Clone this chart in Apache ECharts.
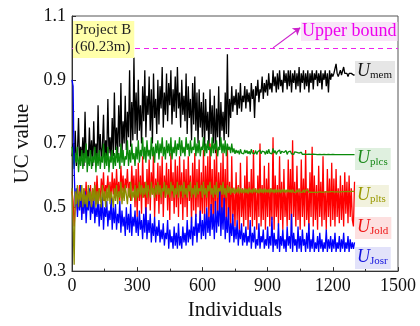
<!DOCTYPE html>
<html>
<head>
<meta charset="utf-8">
<script src="https://cdn.jsdelivr.net/npm/echarts@6/dist/echarts.min.js"></script>
<style>
  html, body { margin: 0; padding: 0; background: #fff; }
  #chart { width: 420px; height: 326px; }
</style>
</head>
<body>
<div id="chart"></div>
<script>
// one value every 5 individuals, 0 .. 1300
const step = 5;
const xTicks = [0, 300, 600, 900, 1200, 1500];
const yTicks = [0.3, 0.5, 0.7, 0.9, 1.1];
const upperBound = 1.0;

const uMem = [
  0.66,0.70,0.64,0.74,0.63,0.67,0.78,0.64,0.69,0.65,0.72,0.63,0.80,0.66,0.68,0.64,0.75,0.65,0.71,0.63,
  0.77,0.65,0.70,0.64,0.82,0.66,0.73,0.65,0.69,0.79,0.64,0.71,0.66,0.84,0.67,0.72,0.65,0.78,0.66,0.86,
  0.68,0.75,0.66,0.82,0.69,0.89,0.67,0.77,0.70,0.85,0.68,0.80,0.72,0.93,0.69,0.83,0.71,0.97,0.73,0.86,
  0.71,0.90,0.74,0.82,0.70,0.88,0.77,0.93,0.72,0.85,0.79,0.91,0.74,0.87,0.70,0.92,0.78,0.84,0.73,0.90,
  0.76,0.88,0.81,0.94,0.75,0.86,0.79,0.92,0.77,0.89,0.82,0.93,0.76,0.87,0.80,0.91,0.78,0.94,0.81,0.86,
  0.75,0.90,0.79,0.85,0.77,0.92,0.73,0.88,0.78,0.84,0.71,0.89,0.76,0.91,0.74,0.86,0.70,0.87,0.75,0.83,
  0.72,0.86,0.69,0.84,0.74,0.80,0.68,0.87,0.73,0.82,0.70,0.85,0.67,0.81,0.72,0.88,0.69,0.83,0.74,0.80,
  0.71,0.86,0.73,0.98,0.72,0.84,0.78,0.88,0.80,0.85,0.82,0.87,0.79,0.86,0.81,0.89,0.80,0.85,0.83,0.88,
  0.81,0.87,0.83,0.86,0.80,0.89,0.84,0.87,0.78,0.88,0.85,0.90,0.83,0.87,0.86,0.91,0.84,0.89,0.86,0.90,
  0.85,0.92,0.87,0.89,0.86,0.93,0.88,0.91,0.86,0.92,0.87,0.93,0.88,0.90,0.86,0.93,0.89,0.92,0.87,0.93,
  0.88,0.93,0.86,0.92,0.89,0.93,0.87,0.92,0.88,0.94,0.86,0.92,0.89,0.93,0.87,0.92,0.88,0.93,0.86,0.92,
  0.89,0.93,0.87,0.92,0.90,0.93,0.88,0.92,0.89,0.93,0.87,0.92,0.90,0.93,0.88,0.92,0.86,0.93,0.90,0.92,
  0.91,0.92,0.92,0.95,0.92,0.91,0.92,0.93,0.915,0.92,0.94,0.92,0.915,0.92,0.91,0.92,0.915,0.92,0.915,0.915,0.915
];
const uPlcs = [
  0.69,0.66,0.62,0.67,0.64,0.69,0.61,0.66,0.63,0.68,0.62,0.67,0.64,0.70,0.61,0.66,0.63,0.68,0.62,0.66,
  0.64,0.69,0.61,0.67,0.63,0.68,0.62,0.66,0.64,0.70,0.62,0.67,0.63,0.69,0.61,0.66,0.64,0.68,0.62,0.67,
  0.63,0.69,0.64,0.67,0.62,0.70,0.64,0.68,0.63,0.66,0.65,0.71,0.63,0.68,0.64,0.70,0.65,0.67,0.63,0.69,
  0.65,0.71,0.64,0.68,0.66,0.72,0.65,0.69,0.64,0.71,0.66,0.68,0.65,0.72,0.66,0.69,0.64,0.70,0.67,0.71,
  0.65,0.70,0.67,0.72,0.66,0.69,0.65,0.71,0.67,0.70,0.66,0.72,0.65,0.69,0.67,0.71,0.66,0.70,0.68,0.72,
  0.66,0.71,0.67,0.69,0.66,0.72,0.68,0.70,0.66,0.71,0.67,0.69,0.68,0.72,0.66,0.70,0.67,0.71,0.66,0.69,
  0.68,0.72,0.66,0.70,0.67,0.71,0.68,0.69,0.66,0.72,0.67,0.70,0.68,0.71,0.66,0.69,0.68,0.72,0.67,0.70,
  0.67,0.71,0.66,0.70,0.68,0.69,0.67,0.70,0.672,0.685,0.668,0.68,0.67,0.678,0.666,0.682,0.67,0.676,0.668,0.68,
  0.67,0.678,0.668,0.676,0.666,0.682,0.67,0.675,0.668,0.678,0.666,0.674,0.67,0.68,0.668,0.676,0.67,0.674,0.666,0.678,
  0.668,0.682,0.67,0.676,0.668,0.685,0.67,0.678,0.666,0.674,0.67,0.68,0.668,0.676,0.67,0.672,0.668,0.678,0.666,0.674,
  0.67,0.676,0.668,0.672,0.666,0.674,0.668,0.672,0.666,0.67,0.668,0.673,0.666,0.67,0.667,0.672,0.666,0.669,0.667,0.671,
  0.666,0.669,0.667,0.668,0.666,0.669,0.665,0.668,0.666,0.668,0.665,0.667,0.666,0.668,0.665,0.667,0.666,0.667,0.665,0.667,
  0.666,0.666,0.665,0.667,0.665,0.666,0.665,0.666,0.665,0.666,0.665,0.666,0.665,0.666,0.665,0.666,0.665,0.665,0.665,0.665,0.665
];
const uPlts = [
  0.56,0.45,0.32,0.55,0.51,0.57,0.50,0.55,0.52,0.57,0.50,0.56,0.51,0.54,0.50,0.57,0.52,0.55,0.50,0.56,
  0.52,0.57,0.50,0.55,0.51,0.56,0.53,0.50,0.57,0.52,0.55,0.50,0.56,0.52,0.57,0.51,0.55,0.53,0.50,0.56,
  0.52,0.57,0.51,0.55,0.53,0.58,0.51,0.56,0.52,0.57,0.54,0.51,0.56,0.53,0.58,0.52,0.55,0.53,0.57,0.52,
  0.56,0.53,0.58,0.54,0.57,0.53,0.56,0.54,0.58,0.53,0.57,0.55,0.53,0.58,0.54,0.56,0.53,0.57,0.54,0.58,
  0.54,0.57,0.53,0.56,0.55,0.58,0.53,0.57,0.54,0.56,0.53,0.58,0.55,0.57,0.53,0.56,0.54,0.58,0.53,0.57,
  0.55,0.57,0.53,0.58,0.54,0.56,0.53,0.57,0.55,0.58,0.53,0.56,0.54,0.57,0.53,0.58,0.54,0.56,0.55,0.57,
  0.53,0.58,0.54,0.56,0.53,0.57,0.55,0.58,0.54,0.56,0.53,0.57,0.54,0.58,0.53,0.56,0.55,0.57,0.54,0.58,
  0.54,0.56,0.53,0.57,0.545,0.565,0.54,0.56,0.545,0.562,0.542,0.558,0.546,0.564,0.543,0.56,0.545,0.558,0.544,0.56,
  0.545,0.558,0.543,0.562,0.546,0.556,0.544,0.56,0.547,0.558,0.545,0.556,0.544,0.56,0.546,0.557,0.545,0.559,0.546,0.556,
  0.546,0.557,0.545,0.559,0.547,0.556,0.545,0.558,0.546,0.555,0.547,0.557,0.545,0.556,0.547,0.558,0.546,0.555,0.547,0.556,
  0.547,0.555,0.546,0.556,0.548,0.554,0.546,0.555,0.547,0.556,0.548,0.554,0.547,0.555,0.546,0.554,0.548,0.555,0.547,0.553,
  0.548,0.554,0.547,0.553,0.548,0.554,0.547,0.553,0.549,0.554,0.547,0.552,0.548,0.553,0.549,0.552,0.548,0.553,0.549,0.552,
  0.549,0.552,0.548,0.552,0.549,0.551,0.548,0.552,0.549,0.551,0.549,0.552,0.549,0.551,0.55,0.551,0.549,0.551,0.55,0.55,0.55
];
const uJold = [
  0.55,0.52,0.44,0.50,0.55,0.49,0.53,0.57,0.50,0.54,0.48,0.56,0.51,0.58,0.50,0.55,0.52,0.57,0.49,0.56,
  0.52,0.58,0.51,0.60,0.53,0.56,0.52,0.59,0.54,0.61,0.52,0.57,0.55,0.60,0.53,0.58,0.52,0.61,0.54,0.59,
  0.53,0.62,0.54,0.58,0.52,0.63,0.55,0.60,0.53,0.59,0.56,0.62,0.54,0.58,0.52,0.63,0.55,0.60,0.50,0.62,
  0.47,0.64,0.52,0.60,0.48,0.66,0.53,0.58,0.46,0.62,0.51,0.65,0.49,0.61,0.54,0.67,0.47,0.59,0.52,0.64,
  0.48,0.63,0.51,0.66,0.47,0.60,0.53,0.64,0.49,0.62,0.46,0.67,0.52,0.61,0.48,0.65,0.50,0.63,0.47,0.66,
  0.51,0.61,0.46,0.65,0.50,0.62,0.47,0.66,0.52,0.60,0.45,0.64,0.49,0.67,0.47,0.62,0.50,0.65,0.46,0.61,
  0.48,0.68,0.46,0.63,0.50,0.66,0.45,0.70,0.49,0.62,0.44,0.65,0.48,0.69,0.46,0.61,0.50,0.64,0.45,0.67,
  0.47,0.62,0.44,0.69,0.46,0.58,0.43,0.66,0.47,0.55,0.44,0.61,0.46,0.57,0.43,0.64,0.47,0.56,0.44,0.60,
  0.46,0.66,0.43,0.58,0.47,0.62,0.44,0.68,0.46,0.56,0.43,0.60,0.47,0.70,0.44,0.57,0.46,0.63,0.43,0.59,
  0.47,0.64,0.44,0.56,0.46,0.72,0.43,0.60,0.47,0.57,0.44,0.66,0.46,0.58,0.43,0.62,0.47,0.55,0.44,0.65,
  0.46,0.62,0.43,0.71,0.47,0.58,0.44,0.63,0.46,0.56,0.43,0.65,0.47,0.59,0.44,0.68,0.46,0.56,0.43,0.61,
  0.47,0.69,0.44,0.60,0.46,0.57,0.43,0.63,0.47,0.58,0.44,0.66,0.46,0.55,0.43,0.62,0.47,0.59,0.44,0.64,
  0.46,0.59,0.44,0.62,0.47,0.56,0.45,0.60,0.46,0.57,0.44,0.61,0.48,0.58,0.45,0.60,0.47,0.56,0.46,0.44,0.58
];
const uJosr = [
  0.90,0.88,0.62,0.50,0.56,0.47,0.54,0.49,0.57,0.46,0.53,0.48,0.55,0.45,0.52,0.49,0.56,0.46,0.51,0.48,
  0.54,0.45,0.50,0.47,0.53,0.44,0.51,0.46,0.54,0.43,0.50,0.47,0.52,0.44,0.49,0.46,0.53,0.43,0.50,0.45,
  0.51,0.43,0.48,0.45,0.52,0.42,0.49,0.44,0.47,0.41,0.50,0.43,0.48,0.42,0.51,0.41,0.47,0.44,0.49,0.42,
  0.47,0.41,0.49,0.43,0.46,0.40,0.48,0.42,0.50,0.40,0.46,0.42,0.48,0.39,0.45,0.41,0.47,0.39,0.44,0.41,
  0.46,0.39,0.43,0.40,0.45,0.38,0.42,0.40,0.46,0.37,0.43,0.39,0.41,0.37,0.44,0.38,0.42,0.37,0.45,0.38,
  0.41,0.37,0.44,0.39,0.42,0.38,0.46,0.39,0.43,0.40,0.47,0.38,0.44,0.41,0.48,0.39,0.45,0.42,0.49,0.40,
  0.46,0.41,0.48,0.40,0.50,0.42,0.47,0.41,0.51,0.43,0.48,0.40,0.52,0.42,0.49,0.44,0.55,0.41,0.50,0.43,
  0.53,0.40,0.47,0.42,0.50,0.39,0.45,0.41,0.48,0.39,0.44,0.40,0.46,0.38,0.43,0.40,0.45,0.38,0.42,0.39,
  0.44,0.38,0.41,0.39,0.46,0.37,0.42,0.39,0.44,0.37,0.40,0.38,0.45,0.37,0.41,0.39,0.43,0.37,0.40,0.38,
  0.44,0.37,0.41,0.38,0.47,0.36,0.42,0.38,0.40,0.37,0.45,0.36,0.41,0.38,0.43,0.37,0.40,0.36,0.44,0.38,
  0.41,0.37,0.48,0.36,0.42,0.38,0.40,0.36,0.44,0.37,0.41,0.36,0.43,0.38,0.40,0.36,0.42,0.37,0.45,0.36,
  0.40,0.37,0.43,0.36,0.39,0.37,0.41,0.36,0.42,0.37,0.40,0.36,0.39,0.37,0.43,0.36,0.40,0.37,0.41,0.36,
  0.40,0.37,0.42,0.36,0.39,0.37,0.41,0.36,0.40,0.37,0.42,0.36,0.39,0.37,0.41,0.36,0.40,0.37,0.39,0.37,0.39
];

const serif = '"Liberation Serif", "DejaVu Serif", serif';

function pairs(arr) {
  return arr.map((v, i) => [i * step, v]);
}
function line(name, arr, color) {
  return {
    name: name, type: 'line', data: pairs(arr),
    showSymbol: false, sampling: null, silent: true,
    lineStyle: { color: color, width: 1.3 }
  };
}

const chart = echarts.init(document.getElementById('chart'));

const series = [
  line('mem', uMem, '#000000'),
  line('Jold', uJold, '#ff0000'),
  line('plcs', uPlcs, '#0a8a0a'),
  line('Josr', uJosr, '#0000ff'),
  line('plts', uPlts, '#8c8c00')
];
// upper bound + arrow to its label
series[0].markLine = {
  silent: true, symbol: 'none', animation: false, label: { show: false },
  data: [
    { yAxis: upperBound, lineStyle: { color: '#ee22ee', type: [5, 4], width: 1 } },
    [
      { coord: [925, upperBound], symbol: 'none', lineStyle: { color: '#cc22cc', type: 'solid', width: 1.2 } },
      { coord: [1050, 1.063], symbol: 'arrow', symbolSize: 7 }
    ]
  ]
};

function sub(u, s, color, bg, x, y) {
  return {
    type: 'text', left: x, top: y, z: 100,
    style: {
      text: '{u|' + u + '}{s|' + s + '}',
      backgroundColor: bg, padding: [1, 3, 2, 2],
      rich: {
        u: { fontFamily: serif, fontStyle: 'italic', fontSize: 18, fill: color, lineHeight: 19 },
        s: { fontFamily: serif, fontSize: 11, fill: color, lineHeight: 19, verticalAlign: 'bottom', padding: [7, 0, 0, 0] }
      }
    }
  };
}

chart.setOption({
  animation: false,
  grid: { left: 72, right: 22, top: 16, bottom: 49, show: true, borderColor: '#555', borderWidth: 1 },
  xAxis: {
    type: 'value', min: xTicks[0], max: xTicks[xTicks.length - 1], interval: 300,
    name: 'Individuals', nameLocation: 'middle', nameGap: 27,
    nameTextStyle: { fontFamily: serif, fontSize: 21, color: '#111' },
    axisLine: { lineStyle: { color: '#333' } },
    axisTick: { inside: true, length: 4, lineStyle: { color: '#333' } },
    minorTick: { show: true, splitNumber: 2, length: 2.5, lineStyle: { color: '#333' } },
    axisLabel: { fontFamily: serif, fontSize: 18, color: '#111', margin: 6, formatter: v => String(v) },
    splitLine: { show: false }
  },
  yAxis: {
    type: 'value', min: yTicks[0], max: yTicks[yTicks.length - 1], interval: 0.2,
    name: 'UC value', nameLocation: 'middle', nameGap: 36,
    nameTextStyle: { fontFamily: serif, fontSize: 21, color: '#111' },
    axisLine: { show: true, lineStyle: { color: '#333' } },
    axisTick: { show: true, inside: true, length: 4, lineStyle: { color: '#333' } },
    minorTick: { show: true, splitNumber: 2, length: 2.5, lineStyle: { color: '#333' } },
    axisLabel: { fontFamily: serif, fontSize: 18, color: '#111', margin: 6, formatter: v => v.toFixed(1) },
    splitLine: { show: false }
  },
  series: series,
  graphic: [
    {
      type: 'text', left: 73, top: 21, z: 100,
      style: {
        text: 'Project B\n(60.23m)', fontFamily: serif, fontSize: 15, lineHeight: 17,
        fill: '#222', backgroundColor: '#ffffaa', padding: [1, 3, 2, 2]
      }
    },
    {
      type: 'text', left: 301, top: 22, z: 100,
      style: {
        text: 'Upper bound', fontFamily: serif, fontSize: 18, lineHeight: 19,
        fill: '#ee00ee', backgroundColor: '#f8e6f8', padding: [0, 1, 0, 1]
      }
    },
    sub('U', 'mem', '#111', '#e6e6e6', 355, 61),
    sub('U', 'plcs', '#1a8a1a', '#dff0df', 355, 148),
    sub('U', 'plts', '#999900', '#f2f2de', 355, 185),
    sub('U', 'Jold', '#ee1111', '#fde0e0', 355, 217),
    sub('U', 'Josr', '#1111dd', '#e2e2fa', 355, 247)
  ]
});
</script>
</body>
</html>
